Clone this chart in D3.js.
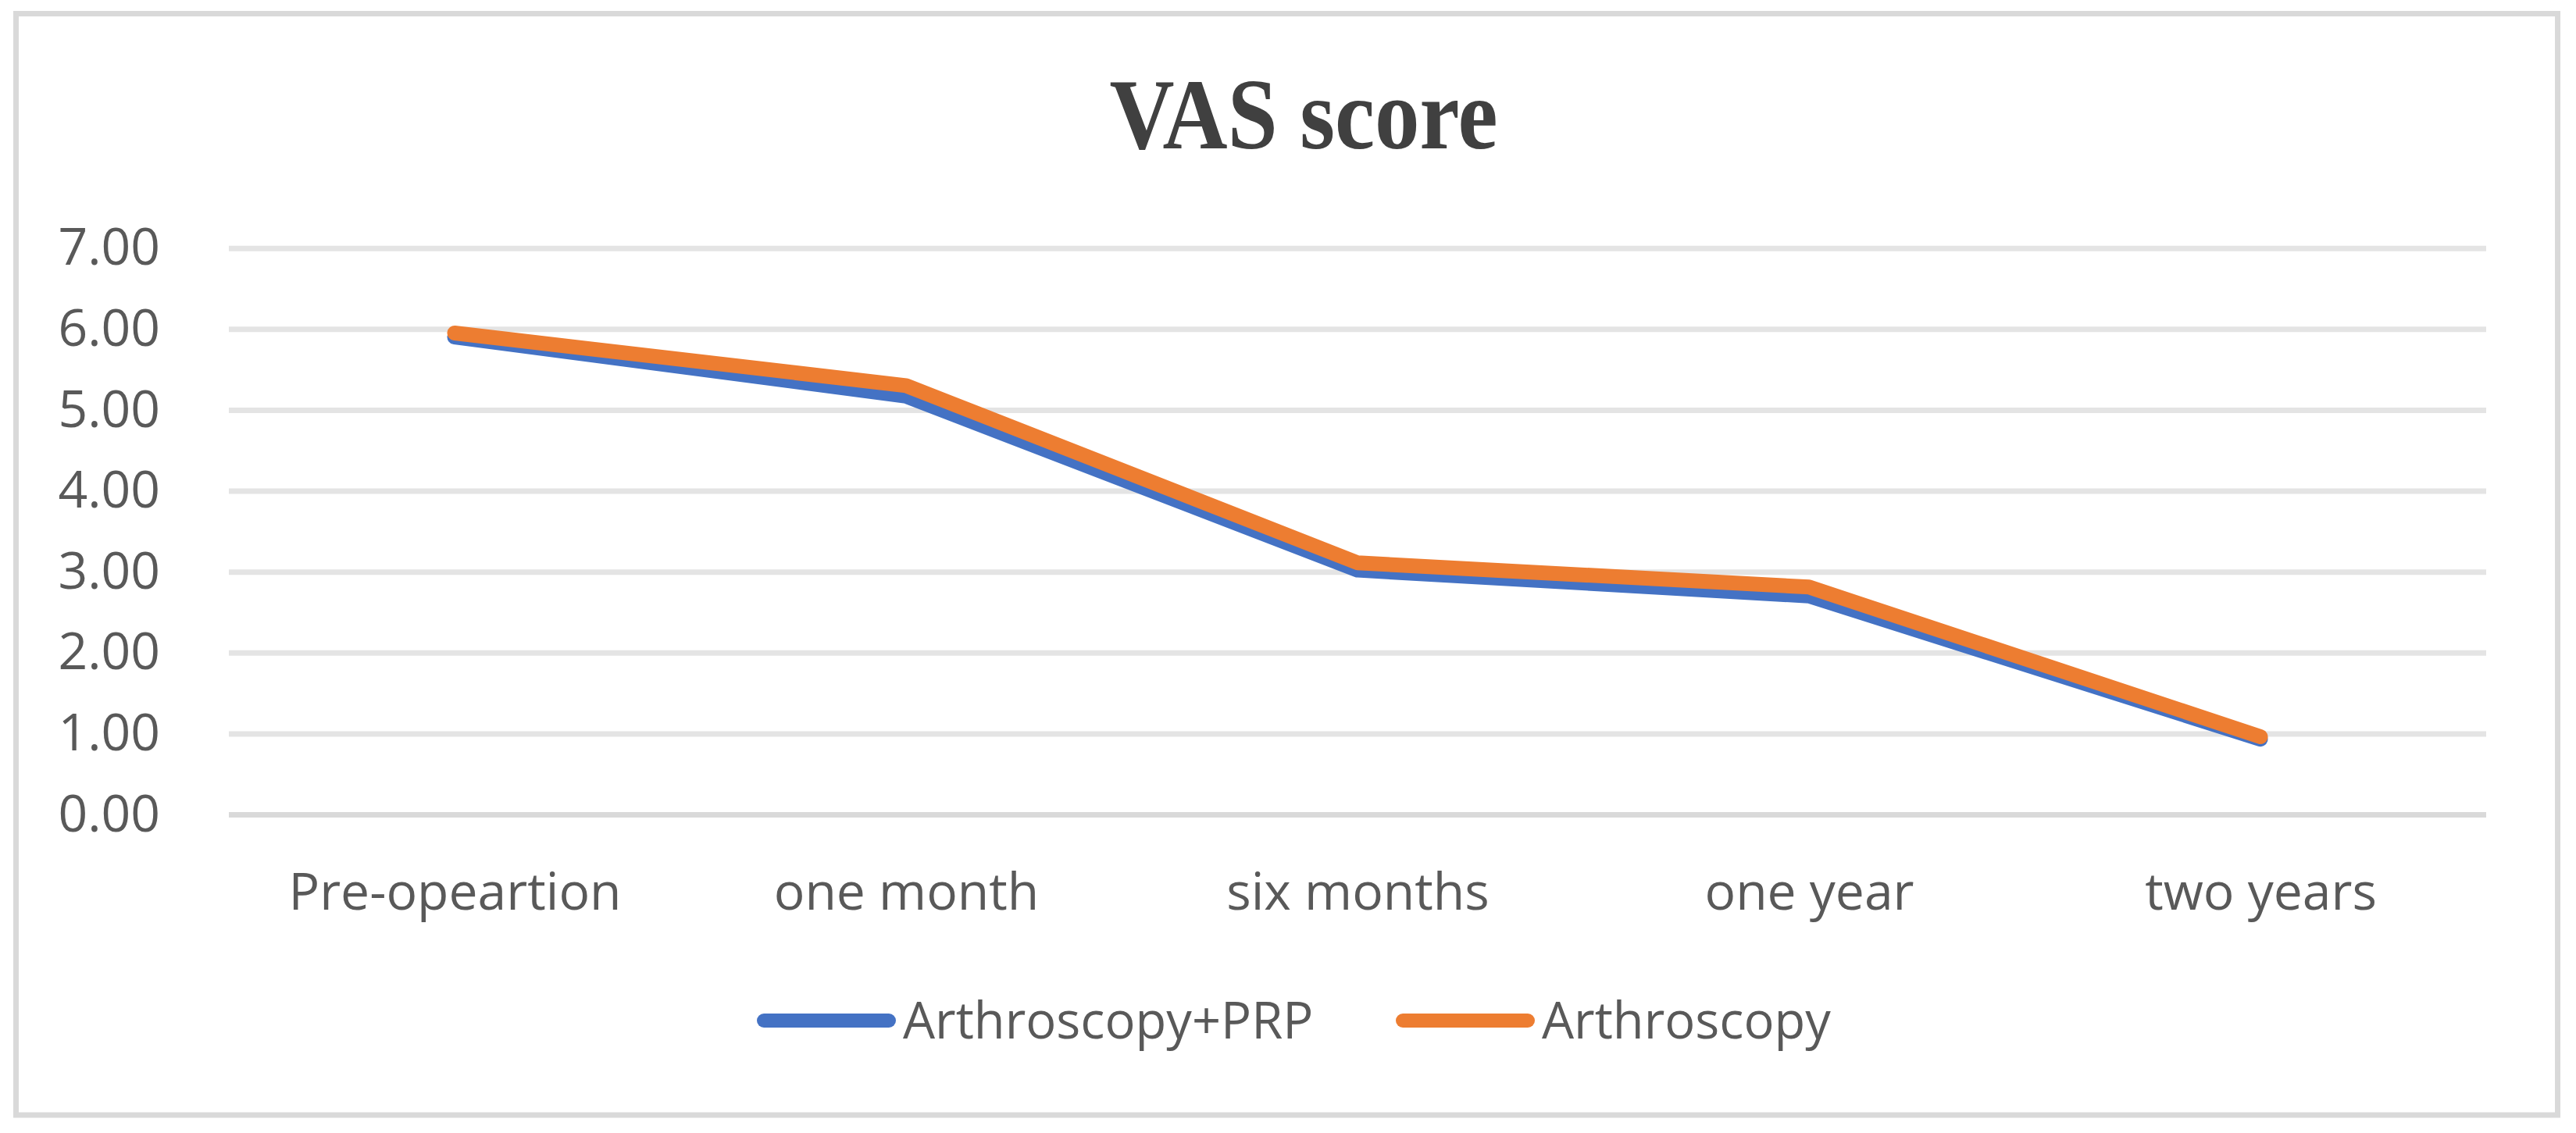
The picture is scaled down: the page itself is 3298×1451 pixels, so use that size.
<!DOCTYPE html>
<html>
<head>
<meta charset="utf-8">
<script src="https://cdn.jsdelivr.net/npm/d3@7"></script>
<style>
  html, body { margin: 0; padding: 0; background: #fff; }
  svg { display: block; }
</style>
</head>
<body>
<svg id="svg_vasChart" width="3298" height="1451"></svg>
<script>
// VAS score over follow-up, two treatment groups

const categories = ['Pre-opeartion', 'one month', 'six months', 'one year', 'two years'];
const seriesNames = ['Arthroscopy+PRP', 'Arthroscopy'];
const prpValues = [5.90, 5.17, 3.02, 2.70, 0.93];
const arthroValues = [5.95, 5.30, 3.11, 2.81, 0.96];
const yTicks = [0, 1, 2, 3, 4, 5, 6, 7];

const colors = ['#4472C4', '#ED7D31'];
const labelFont = '"Open Sans", "Noto Sans", sans-serif';

const svg = d3.select('#svg_vasChart');

// outer frame
svg.append('rect')
   .attr('x', 20.5).attr('y', 17.5)
   .attr('width', 3254).attr('height', 1410.5)
   .attr('fill', '#fff')
   .attr('stroke', '#d9d9d9')
   .attr('stroke-width', 7);

// title
svg.append('text')
   .attr('transform', 'translate(1669, 190) scale(1, 1.13)')
   .attr('text-anchor', 'middle')
   .style('font-family', '"Liberation Serif", "Times New Roman", serif')
   .style('font-weight', 'bold')
   .style('font-size', '115px')
   .attr('fill', '#404040')
   .text('VAS score');

// scales
const plotLeft = 293, plotRight = 3183;
const xScale = d3.scalePoint()
                 .domain(categories)
                 .range([plotLeft, plotRight])
                 .padding(0.5);

const yScale = d3.scaleLinear()
                 .domain([0, 7])
                 .range([1043, 317.7]);

// y axis + gridlines
let yAxis = d3.axisLeft()
              .scale(yScale)
              .tickValues(yTicks)
              .tickFormat(d3.format('.2f'))
              .tickSize(-(plotRight - plotLeft))
              .tickPadding(88);

let yG = svg.append('g')
            .attr('transform', `translate(${plotLeft}, 0)`)
            .call(yAxis);
yG.select('.domain').remove();
yG.selectAll('line')
  .attr('stroke', d => d === 0 ? '#d9d9d9' : '#e4e4e4')
  .attr('stroke-width', 7);
yG.selectAll('text')
  .attr('fill', '#595959')
  .style('font-family', labelFont)
  .style('font-size', '66px');

// x axis labels
let xAxis = d3.axisBottom()
              .scale(xScale)
              .tickSize(0);

let xG = svg.append('g')
            .call(xAxis);
xG.select('.domain').remove();
xG.selectAll('text')
  .attr('y', 1165)
  .attr('dy', null)
  .attr('fill', '#595959')
  .style('font-family', labelFont)
  .style('font-size', '66px');

// lines
const lineGen = d3.line()
                  .x((d, i) => xScale(categories[i]))
                  .y(d => yScale(d));

[prpValues, arthroValues].forEach((vals, k) => {
    svg.append('path')
       .datum(vals)
       .attr('d', lineGen)
       .attr('fill', 'none')
       .attr('stroke', colors[k])
       .attr('stroke-width', 19)
       .attr('stroke-linecap', 'round')
       .attr('stroke-linejoin', 'round');
});

// legend
const legendItems = [
    { name: seriesNames[0], color: colors[0], x: 978 },
    { name: seriesNames[1], color: colors[1], x: 1796 }
];
const legendY = 1307;
let lg = svg.append('g');
legendItems.forEach(item => {
    lg.append('line')
      .attr('x1', item.x).attr('x2', item.x + 160)
      .attr('y1', legendY).attr('y2', legendY)
      .attr('stroke', item.color)
      .attr('stroke-width', 18)
      .attr('stroke-linecap', 'round');
    lg.append('text')
      .attr('x', item.x + 178)
      .attr('y', legendY + 23)
      .attr('fill', '#595959')
      .style('font-family', labelFont)
      .style('font-size', '65px')
      .text(item.name);
});
</script>
</body>
</html>
